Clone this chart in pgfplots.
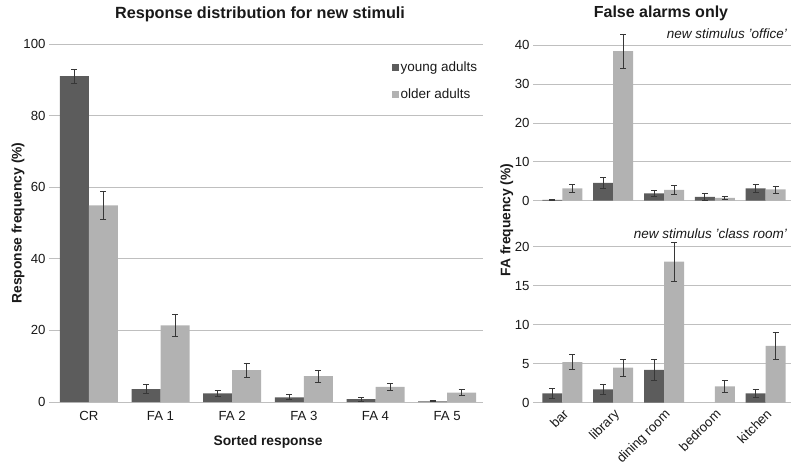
\documentclass[border=0pt]{standalone}
\usepackage{pgfplots}
\pgfplotsset{compat=1.18}
\usepackage{pgfplotstable}
\usepackage{fontspec}
\setmainfont{Liberation Sans}

\definecolor{young}{RGB}{92,92,92}
\definecolor{older}{RGB}{178,178,178}
\definecolor{gridc}{RGB}{191,191,191}
\definecolor{errc}{RGB}{55,55,55}
\definecolor{txt}{RGB}{25,25,25}

% x  value  error
\pgfplotstableread{
x y e
0 91.0 2.0
1 3.6 1.3
2 2.4 0.9
3 1.3 0.7
4 0.8 0.5
5 0.2 0.15
}\respyoung
\pgfplotstableread{
x y e
0 54.9 3.9
1 21.4 3.2
2 8.9 2.0
3 7.2 1.6
4 4.2 1.0
5 2.6 0.8
}\respolder
\pgfplotstableread{
x y e
0 0.2 0.2
1 4.6 1.4
2 1.9 0.8
3 1.0 0.8
4 3.2 1.0
}\officeyoung
\pgfplotstableread{
x y e
0 3.2 1.0
1 38.5 4.4
2 2.8 1.1
3 0.7 0.35
4 2.9 0.9
}\officeolder
\pgfplotstableread{
x y e
0 1.2 0.6
1 1.7 0.65
2 4.2 1.3
4 1.2 0.55
}\classyoung
\pgfplotstableread{
x y e
0 5.2 0.95
1 4.5 1.1
2 18.1 2.5
3 2.1 0.75
4 7.3 1.7
}\classolder

\pgfplotsset{
  fabar/.style={
    scale only axis, enlargelimits=false, clip=false,
    axis x line*=bottom, axis y line*=left,
    x axis line style={-, draw=gridc, line width=0.9pt},
    y axis line style={draw=none},
    ymajorgrids, grid style={gridc, line width=0.9pt},
    ybar=0pt,
    tick align=outside,
    xtick style={draw=none},
    minor x tick style={gridc, line width=0.9pt},
    minor tick length=5pt,
    major tick length=4pt,
    ytick style={gridc, line width=0.9pt},
    tick label style={font=\fontsize{13.2}{15}\selectfont, text=txt},
    /pgf/number format/assume math mode=true,
  },
  ebar/.style={
    error bars/.cd, y dir=both, y explicit,
    error bar style={errc, line width=0.8pt},
    error mark options={rotate=90, errc, mark size=3pt, line width=0.8pt},
  },
}

\begin{document}
\begin{tikzpicture}[x=1pt,y=1pt]
\useasboundingbox (0,0) rectangle (800,472);

\begin{axis}[fabar, at={(53pt,70pt)}, anchor=south west,
  width=430pt, height=358pt,
  xmin=-0.5, xmax=5.5, ymin=0, ymax=100, ytick={0,20,...,100},
  xtick={0,...,5}, xticklabels={CR,FA 1,FA 2,FA 3,FA 4,FA 5},
  x tick label style={yshift=-2pt},
  minor xtick={-0.5,0.5,...,5.5},
  bar width=29pt,
  legend style={at={(0.788,0.955)}, anchor=north west, draw=none, fill=none,
    font=\fontsize{13.5}{16}\selectfont, text=txt, row sep=13pt,
    inner sep=0pt, nodes={inner sep=1.5pt}},
  legend cell align=left,
  legend image code/.code={\fill[#1, draw=none] (0pt,-3.5pt) rectangle (7pt,3.5pt);},
]
\addplot[fill=young, draw=none, ebar] table[x=x, y=y, y error=e] {\respyoung};
\addlegendentry{young adults}
\addplot[fill=older, draw=none, ebar] table[x=x, y=y, y error=e] {\respolder};
\addlegendentry{older adults}
\end{axis}

\begin{axis}[fabar, at={(537pt,271.3pt)}, anchor=south west,
  width=254pt, height=155.4pt,
  xmin=-0.5, xmax=4.5, ymin=0, ymax=40, ytick={0,10,...,40},
  xtick=\empty,
  minor xtick={-0.5,0.5,...,4.5},
  bar width=20pt,
]
\addplot[fill=young, draw=none, ebar] table[x=x, y=y, y error=e] {\officeyoung};
\addplot[fill=older, draw=none, ebar] table[x=x, y=y, y error=e] {\officeolder};
\end{axis}

\begin{axis}[fabar, at={(537pt,69.3pt)}, anchor=south west,
  width=254pt, height=156pt,
  xmin=-0.5, xmax=4.5, ymin=0, ymax=20, ytick={0,5,...,20},
  xtick={0,...,4}, xticklabels={bar,library,dining room,bedroom,kitchen},
  x tick label style={rotate=45, anchor=north east, inner sep=1pt},
  minor xtick={-0.5,0.5,...,4.5},
  bar width=20pt,
]
\addplot[fill=young, draw=none, ebar] table[x=x, y=y, y error=e] {\classyoung};
\addplot[fill=older, draw=none, ebar] table[x=x, y=y, y error=e] {\classolder};
\end{axis}

\node[font=\fontsize{16.2}{19}\selectfont\bfseries, text=txt] at (260,458) {Response distribution for new stimuli};
\node[font=\fontsize{16}{19}\selectfont\bfseries, text=txt] at (661,458.7) {False alarms only};
\node[font=\fontsize{13.5}{16}\selectfont\itshape, text=txt, anchor=east, inner sep=0pt] at (787,438.7) {new stimulus 'office'};
\node[font=\fontsize{13.5}{16}\selectfont\itshape, text=txt, anchor=east, inner sep=0pt] at (787,238.7) {new stimulus 'class room'};
\node[font=\fontsize{13.8}{16}\selectfont\bfseries, text=txt, rotate=90] at (18,249) {Response frequency (\%)};
\node[font=\fontsize{13.8}{16}\selectfont\bfseries, text=txt, rotate=90] at (506.7,252) {FA frequency (\%)};
\node[font=\fontsize{13.8}{16}\selectfont\bfseries, text=txt] at (268,30) {Sorted response};
\end{tikzpicture}
\end{document}
